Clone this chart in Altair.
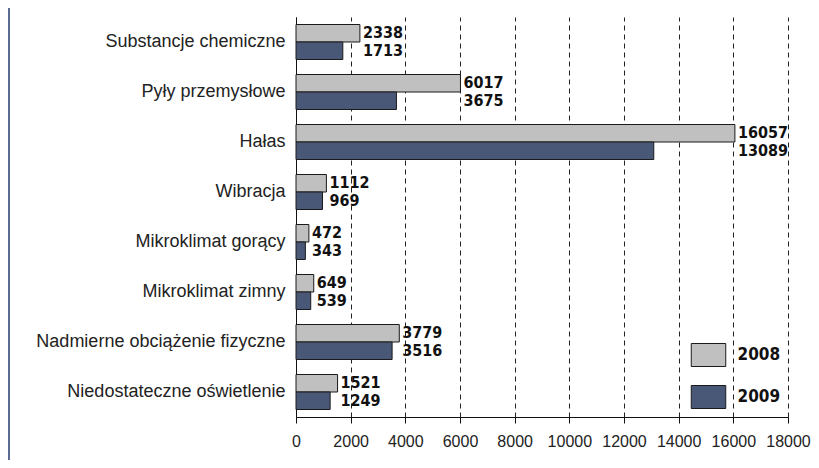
import altair as alt
import pandas as pd

categories = [
    "Substancje chemiczne",
    "Pyły przemysłowe",
    "Hałas",
    "Wibracja",
    "Mikroklimat gorący",
    "Mikroklimat zimny",
    "Nadmierne obciążenie fizyczne",
    "Niedostateczne oświetlenie",
]
values_2008 = [2338, 6017, 16057, 1112, 472, 649, 3779, 1521]
values_2009 = [1713, 3675, 13089, 969, 343, 539, 3516, 1249]
years = ["2008", "2009"]
colors = ["#c0c0c0", "#4a5878"]
x_ticks = list(range(0, 18001, 2000))

rows = []
for c, a, b in zip(categories, values_2008, values_2009):
    m = max(a, b)
    rows.append({"cat": c, "year": "2008", "value": a, "xmax": m})
    rows.append({"cat": c, "year": "2009", "value": b, "xmax": m})
df = pd.DataFrame(rows)

LABEL_FONT = "Liberation Sans"
NUM_FONT = "DejaVu Sans Condensed, DejaVu Sans"

y_enc = alt.Y(
    "cat:N",
    sort=categories,
    scale=alt.Scale(paddingInner=0.3, paddingOuter=0.15),
    axis=alt.Axis(
        title=None,
        ticks=False,
        domainColor="#111",
        domainWidth=1,
        labelFont=LABEL_FONT,
        labelFontSize=18,
        labelColor="#222",
        labelPadding=11,
        labelLimit=400,
    ),
)
yoff = alt.YOffset("year:N", sort=years)

x_enc = alt.X(
    "value:Q",
    scale=alt.Scale(domain=[0, 18000], nice=False),
    axis=alt.Axis(
        title=None,
        values=x_ticks,
        format="d",
        grid=True,
        gridDash=[5, 4],
        gridColor="#222",
        gridWidth=1,
        domainColor="#111",
        tickColor="#111",
        tickSize=6,
        labelFont=LABEL_FONT,
        labelFontSize=16,
        labelColor="#222",
        labelPadding=10,
        labelFlush=False,
    ),
)

base = alt.Chart(df)

bars = base.mark_bar(stroke="#1a1a1a", strokeWidth=1).encode(
    y=y_enc,
    yOffset=yoff,
    x=x_enc,
    color=alt.Color(
        "year:N",
        sort=years,
        scale=alt.Scale(domain=years, range=colors),
        legend=alt.Legend(
            title=None,
            orient="none",
            legendX=400.5,
            legendY=326,
            padding=0,
            symbolType="M-1.5,-1L1.5,-1L1.5,1L-1.5,1Z",
            symbolSize=529,
            symbolStrokeColor="#1a1a1a",
            symbolStrokeWidth=1,
            labelFont=NUM_FONT,
            labelFontWeight="bold",
            labelFontSize=17,
            labelColor="#111",
            labelOffset=17,
            rowPadding=14,
        ),
    ),
)

labels = base.mark_text(
    align="left",
    baseline="middle",
    dx=3,
    font=NUM_FONT,
    fontWeight="bold",
    fontSize=16,
    color="#111",
).encode(
    y=alt.Y("cat:N", sort=categories),
    yOffset=yoff,
    x=alt.X("xmax:Q"),
    text=alt.Text("value:Q", format="d"),
)

border = alt.Chart(pd.DataFrame({"a": [0]})).mark_rule(
    color="#5b6b94", strokeWidth=2
).encode(x=alt.value(-287), y=alt.value(-20), y2=alt.value(470))

chart = (
    alt.layer(bars, labels, border)
    .properties(
        width=492,
        height=400,
        autosize=alt.AutoSizeParams(type="none"),
        padding={"left": 288, "top": 9, "right": 23, "bottom": 43},
    )
    .configure_view(stroke=None)
)

chart.save("out.html", embed_options={"renderer": "svg", "actions": False})
